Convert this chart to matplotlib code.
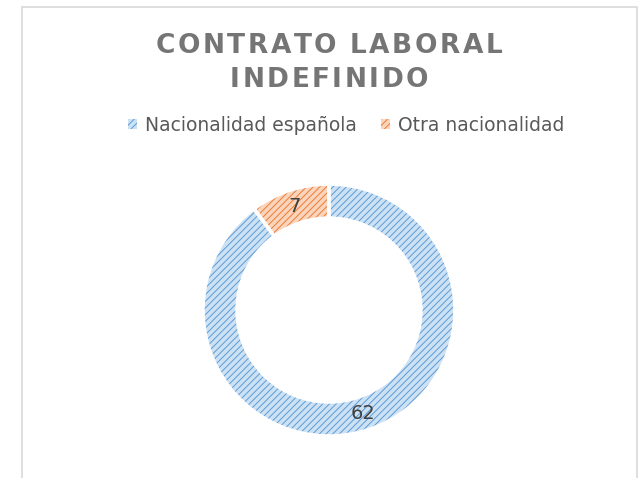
import matplotlib
matplotlib.use("Agg")
import matplotlib.pyplot as plt
from matplotlib.patches import Rectangle
import numpy as np

categorias = ["Nacionalidad española", "Otra nacionalidad"]
valores = [62, 7]
titulo = ["CONTRATO LABORAL", "INDEFINIDO"]

relleno = ["#cde1f4", "#fad4bc"]   # fondo claro de cada sector
trama = ["#5b9bd5", "#ed7d31"]     # color de las rayas

plt.rcParams["font.family"] = "DejaVu Sans"
plt.rcParams["hatch.linewidth"] = 0.7

fig = plt.figure(figsize=(6.41, 4.78), dpi=100)

# marco gris claro del gráfico (sin borde inferior visible)
fig.patches.append(Rectangle((22 / 641, -0.05), 615 / 641, 1.05 - 7 / 478,
                             transform=fig.transFigure, fill=False,
                             edgecolor="#d9d9d9", linewidth=1.2))

ax = fig.add_axes([0.3167, 0.0879, 0.393, 0.527])

# capa 1: relleno con trama
wedges, _ = ax.pie(valores, startangle=90, counterclock=False, radius=1,
                   wedgeprops=dict(width=0.27, linewidth=0))
for w, f, t in zip(wedges, relleno, trama):
    w.set_facecolor(f)
    w.set_edgecolor(t)
    w.set_hatch("/////")

# capa 2: separaciones blancas entre sectores
ax.pie(valores, startangle=90, counterclock=False, radius=1,
       wedgeprops=dict(width=0.27, facecolor="none", edgecolor="white",
                       linewidth=2.5))
ax.set_xlim(-1, 1)
ax.set_ylim(-1, 1)
ax.set_aspect("equal")

# etiquetas de datos en el centro del anillo
total = sum(valores)
ang = 90
for v in valores:
    medio = np.deg2rad(ang - v / total * 360 / 2)
    ax.text(0.865 * np.cos(medio), 0.865 * np.sin(medio), str(v),
            ha="center", va="center", fontsize=14, color="#404040")
    ang -= v / total * 360

# leyenda
leg = fig.legend(wedges, categorias, loc="center", bbox_to_anchor=(0.54, 0.738),
                 ncol=2, frameon=False, fontsize=13.5, handlelength=0.5,
                 handleheight=0.5, handletextpad=0.4, columnspacing=1.3)
for txt in leg.get_texts():
    txt.set_color("#595959")

# título con letras espaciadas
renderer = fig.canvas.get_renderer()
espacio = 2.5
for linea, y in zip(titulo, [46, 80]):
    anchos = []
    for c in linea:
        t = fig.text(0, 0, c if c != " " else "n", fontsize=19, weight="bold")
        anchos.append(t.get_window_extent(renderer).width * (0.45 if c == " " else 1))
        t.remove()
    total_px = sum(anchos) + espacio * (len(linea) - 1)
    x = 329 - total_px / 2
    for c, a in zip(linea, anchos):
        if c != " ":
            fig.text(x / 641, 1 - y / 478, c, fontsize=19, weight="bold",
                     color="#757575", ha="left", va="center")
        x += a + espacio

fig.savefig("out.png", dpi=100)
